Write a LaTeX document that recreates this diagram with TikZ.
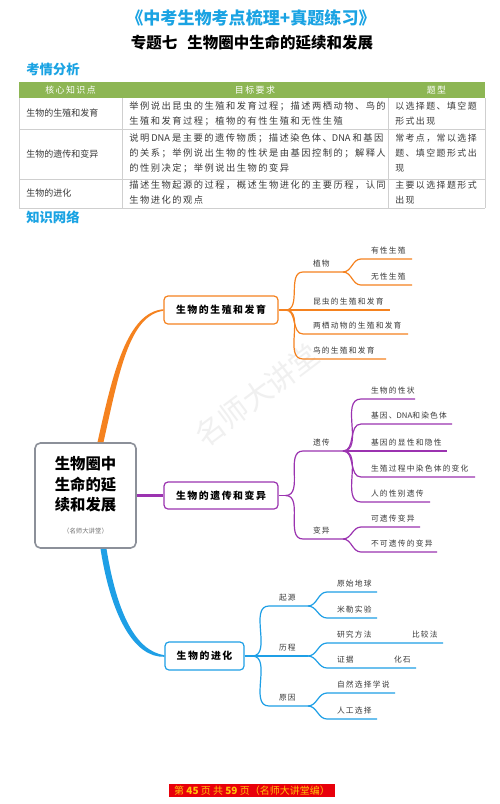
\documentclass[tikz,border=0pt]{standalone}
\usepackage{fontspec}
\setmainfont{Noto Sans CJK SC}
\newfontfamily\spcfont[LetterSpace=16]{Noto Sans CJK SC}
\usetikzlibrary{calc}

\definecolor{titleblue}{HTML}{1AA3E3}
\definecolor{headgreen}{HTML}{8DB654}
\definecolor{brorange}{HTML}{F5821F}
\definecolor{brpurple}{HTML}{9B33B0}
\definecolor{brblue}{HTML}{1E9FE6}
\definecolor{hubgray}{HTML}{8C9099}
\definecolor{leafgray}{HTML}{3A3A3A}
\definecolor{gridgray}{HTML}{CFCFCF}
\definecolor{footred}{HTML}{E8000B}
\definecolor{footgold}{HTML}{FFC20E}

\begin{document}
\begin{tikzpicture}[x=.75pt,y=-.75pt,
  tabline/.style={draw=gridgray,line width=.5pt},
  mainbox/.style={draw=#1,fill=white,rounded corners=3pt,line width=.9pt,
    minimum height=21pt,inner sep=0pt,font=\spcfont\fontsize{7.4}{9}\selectfont\bfseries},
  lbl/.style={anchor=south west,inner xsep=7.5pt,inner ysep=3.6pt,outer sep=0pt,
    text=leafgray,font=\spcfont\fontsize{5.8}{7}\selectfont},
  twig/.style={draw=#1,line width=.9pt},
  cell/.style={anchor=west,align=left,inner sep=0pt,text=leafgray},
  head/.style={text=white,inner sep=0pt,font=\spcfont\fontsize{6.7}{8}\selectfont}]
  \useasboundingbox (0,0) rectangle (500,804);
  \fill[white] (0,0) rectangle (500,804);

  % titles
  \node[text=titleblue,font=\fontsize{12.8}{14}\selectfont\bfseries] (title) at (251,18)
    {《中考生物考点梳理+真题练习》};
  \node[font=\fontsize{11.6}{13}\selectfont\bfseries] (subtitle) at (252,43)
    {专题七\hspace{.65em}生物圈中生命的延续和发展};
  \node[text=titleblue,font=\fontsize{10}{12}\selectfont\bfseries] (kq) at (53,69) {考情分析};
  \node[text=titleblue,font=\fontsize{10}{12}\selectfont\bfseries] (zs) at (53,217) {知识网络};

  % table
  \fill[headgreen] (19,82) rectangle (485,98);
  \foreach \y in {129,179,208} \draw[tabline] (19,\y) -- (485,\y);
  \foreach \x in {19,122,388,485} \draw[tabline] (\x,98) -- (\x,208);
  \node[head] (th1) at (70.5,90) {核心知识点};
  \node[head] (th2) at (255,90) {目标要求};
  \node[head] (th3) at (436.5,90) {题型};
  \begin{scope}[every node/.append style={cell,font=\fontsize{6.75}{11.2}\selectfont}]
    \node (c11) at (26,113.5) {生物的生殖和发育};
    \node (c21) at (26,154) {生物的遗传和变异};
    \node (c31) at (26,193.5) {生物的进化};
  \end{scope}
  \begin{scope}[every node/.append style={cell,font=\spcfont\fontsize{6.95}{11.2}\selectfont}]
    \node (c12) at (129,113.5) {举例说出昆虫的生殖和发育过程；描述两栖动物、鸟的\\生殖和发育过程；植物的有性生殖和无性生殖};
    \node (c22) at (129,153) {说明{\rmfamily\ DNA }是主要的遗传物质；描述染色体、{\rmfamily DNA }和基因\\的关系；举例说出生物的性状是由基因控制的；解释人\\的性别决定；举例说出生物的变异};
    \node (c32) at (129,192.5) {描述生物起源的过程，概述生物进化的主要历程，认同\\生物进化的观点};
  \end{scope}
  \begin{scope}[every node/.append style={cell,font=\spcfont\fontsize{6.7}{11.2}\selectfont}]
    \node (c13) at (395,113.5) {以选择题、填空题\\形式出现};
    \node (c23) at (395,153) {常考点，常以选择\\题、填空题形式出\\现};
    \node (c33) at (395,192.5) {主要以选择题形式\\出现};
  \end{scope}

  % watermark
  \node[rotate=37,text=black!6,font=\fontsize{22}{22}\selectfont] (wm) at (257,395) {名师大讲堂};

  % hub and main branches
  \node[draw=hubgray,fill=white,line width=1.2pt,rounded corners=4pt,
    minimum width=75.75pt,minimum height=78.75pt] (hub) at (85.5,495.5) {};
  \node[align=center,font=\fontsize{11.5}{15.4}\selectfont\bfseries] (hubtitle) at (85.5,484.5)
    {生物圈中\\生命的延\\续和发展};
  \node[text=black!55,font=\fontsize{4.8}{6}\selectfont] (hubsub) at (85.5,531) {（名师大讲堂）};

  \node[mainbox=brorange,minimum width=85.5pt] (bfa) at (221,310) {生物的生殖和发育};
  \node[mainbox=brpurple,minimum width=85.5pt,minimum height=20.25pt] (bgv) at (221,495.5) {生物的遗传和变异};
  \node[mainbox=brblue,minimum width=59.25pt] (bev) at (204.5,656) {生物的进化};

  \fill[brorange] ($(hub.north)+(12,0)$) .. controls (113,372) and (127,312.5) .. ($(bfa.west)+(0,-.8)$)
    -- ($(bfa.west)+(0,.8)$) .. controls (129,315.5) and (119,373) .. ($(hub.north)+(18,0)$) -- cycle;
  \fill[brblue] ($(hub.south)+(15,0)$) .. controls (111,616) and (134,657.7) .. ($(bev.west)+(0,.8)$)
    -- ($(bev.west)+(0,-.8)$) .. controls (136,651) and (117,614) .. ($(hub.south)+(21,0)$) -- cycle;
  \draw[brpurple,line width=1.6pt] (hub.east) -- (bgv.west);

  \coordinate (jo) at ($(bfa.east)+(7,0)$);
  \coordinate (jp) at ($(bgv.east)+(7,0)$);
  \coordinate (jb) at ($(bev.east)+(7.5,0)$);
  \draw[twig=brorange] (bfa.east) -- (jo);
  \draw[twig=brpurple] (bgv.east) -- (jp);
  \draw[twig=brblue] (bev.east) -- (jb);

  % reproduction
  \foreach \p/\n/\x/\y/\e/\t in {jo/zw/303/272/343/植物, zw-e/yx/361/259/412/有性生殖,
      zw-e/wx/361/285/412/无性生殖, jo/kc/303/310/390/昆虫的生殖和发育,
      jo/lq/303/334/408/两栖动物的生殖和发育, jo/nl/303/359/386/鸟的生殖和发育} {
    \node[lbl] (\n) at (\x,\y) {\t};
    \coordinate (\n-e) at (\e,\y);
    \draw[twig=brorange] (\p) to[out=0,in=180] (\n.south west) -- (\n-e);
  }

  % heredity and variation
  \foreach \p/\n/\x/\y/\e/\t in {jp/yc/303/451/343/遗传, yc-e/xz/361/399/415/生物的性状,
      yc-e/jd/361/424/452/{基因、{\rmfamily DNA}和染色体}, yc-e/xy/361/451/447/基因的显性和隐性,
      yc-e/rs/361/477/475/生殖过程中染色体的变化, yc-e/xb/361/502/430/人的性别遗传,
      jp/by/303/539/343/变异, by-e/kb/361/527/420/可遗传变异,
      by-e/bk/361/552/437/不可遗传的变异} {
    \node[lbl] (\n) at (\x,\y) {\t};
    \coordinate (\n-e) at (\e,\y);
    \draw[twig=brpurple] (\p) to[out=0,in=180] (\n.south west) -- (\n-e);
  }

  % evolution
  \foreach \p/\n/\x/\y/\e/\t in {jb/qy/269/606/308/起源, qy-e/ys/327/592/377/原始地球,
      qy-e/ml/327/618/377/米勒实验, jb/lc/269/656/308/历程,
      lc-e/ff/327/643/443/研究方法, lc-e/zj/327/668/416/证据,
      jb/yy/269/706/308/原因, yy-e/zr/327/693/395/自然选择学说,
      yy-e/rg/327/719/377/人工选择} {
    \node[lbl] (\n) at (\x,\y) {\t};
    \coordinate (\n-e) at (\e,\y);
    \draw[twig=brblue] (\p) to[out=0,in=180] (\n.south west) -- (\n-e);
  }
  \node[lbl] (bj) at (402,643) {比较法};
  \node[lbl] (hs) at (384,668) {化石};

  % footer
  \node[fill=footred,text=footgold,minimum width=124.5pt,minimum height=9.75pt,inner sep=0pt,
    font=\fontsize{7.5}{8}\selectfont] (foot) at (252,790.5)
    {第 \textbf{45} 页 共 \textbf{59} 页（名师大讲堂编）};
\end{tikzpicture}
\end{document}
